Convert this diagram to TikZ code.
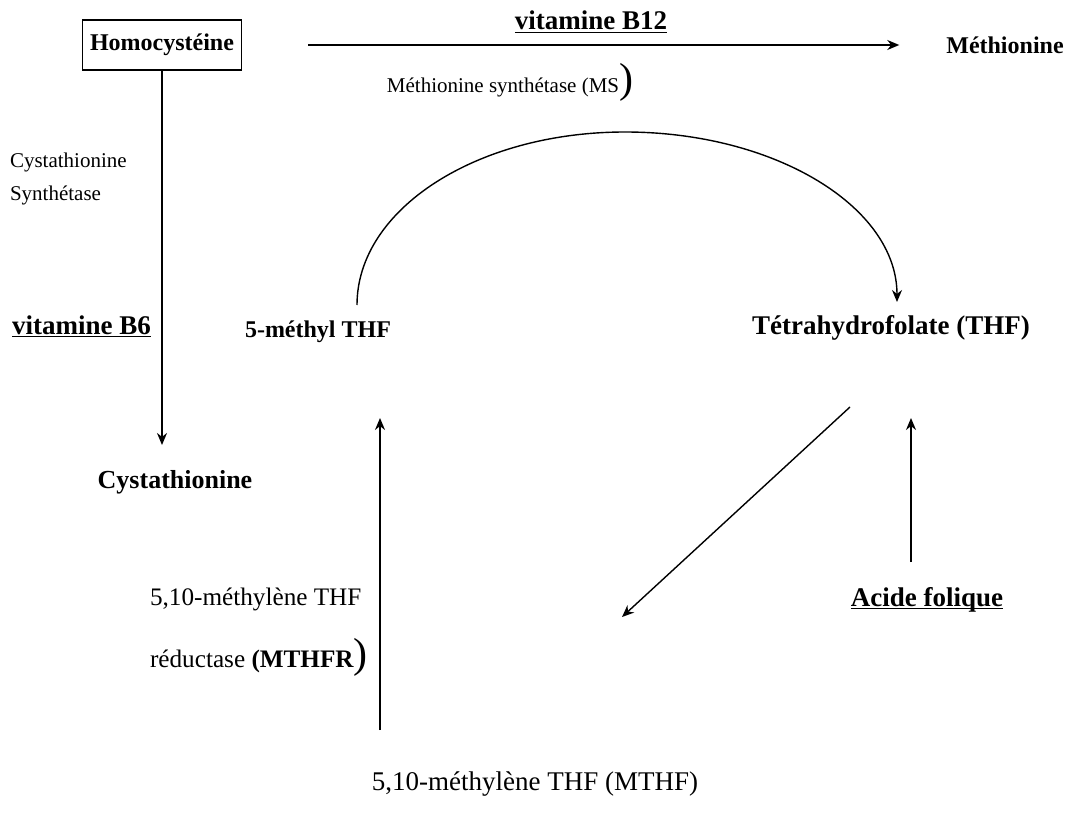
\documentclass[tikz,border=0pt]{standalone}
\usepackage{fontspec}
\setmainfont{Liberation Serif}
\usetikzlibrary{positioning,arrows.meta}
\newcommand{\souligne}[1]{\underline{\smash{#1}}}
\newcommand{\grandpar}{{\fontsize{21}{21}\selectfont\mdseries)}}
\tikzset{
  titre/.style={font=\fontsize{13.5}{16}\selectfont\bfseries},
  espece/.style={font=\fontsize{12}{14}\selectfont\bfseries},
  texte/.style={font=\fontsize{13}{15}\selectfont},
  petit/.style={font=\fontsize{10.5}{16.5}\selectfont},
  fleche/.style={-{Stealth[length=6pt,width=5pt]}, line width=0.7pt},
}
\begin{document}
\begin{tikzpicture}[x=0.5pt,y=-0.5pt]
    \useasboundingbox (0,0) rectangle (1071,813);
    % cycle de la methionine
    \node[espece,draw,line width=0.7pt,minimum width=79.5pt,minimum height=25pt] (homo) at (162,45) {Homocystéine};
    \node[espece] (methio) at (1005,45) {Méthionine};
    \node[titre] (b12) at (591,32) {\souligne{vitamine B12}};
    \node[petit] (ms) at (510,82) {Méthionine synthétase (MS\grandpar};
    \draw[fleche] ([xshift=33pt]homo.east) -- ([xshift=-20pt]methio.west);
    % voie de la cystathionine
    \node[petit,align=left,anchor=west] (cbs) at (3,179) {Cystathionine\\Synthétase};
    \node[titre,anchor=west] (b6) at (5,336) {\souligne{vitamine B6}};
    \node[espece,font=\fontsize{13}{15}\selectfont\bfseries] (cysta) at (175,482) {Cystathionine};
    \draw[fleche] (homo.south) -- (homo.south |- 0,445);
    % folates
    \node[espece] (mthf5) at (318,332) {5-méthyl THF};
    \node[titre] (thf) at (891,328) {Tétrahydrofolate (THF)};
    \node[titre] (folique) at (927,608) {\souligne{Acide folique}};
    \node[texte,font=\fontsize{13.5}{15}\selectfont] (mthf) at (535,784) {5,10-méthylène THF (MTHF)};
    \node[texte,font=\fontsize{12.6}{15}\selectfont,align=left,anchor=west] (mthfr) at (143,632) {5,10-méthylène THF\\[13pt]réductase \textbf{(MTHFR}\grandpar};
    \coordinate (arcA) at (357,305);
    \coordinate (arcB) at (897,302);
    \draw[fleche] (arcA) .. controls (357,209) and (477,132) .. (625,132)
        .. controls (775,132) and (897,207) .. (arcB);
    \draw[fleche] (850,407) -- (622,617);
    \draw[fleche] (911,562) -- (911,418);
    \draw[fleche] (380,730) -- (380,418);
\end{tikzpicture}
\end{document}
